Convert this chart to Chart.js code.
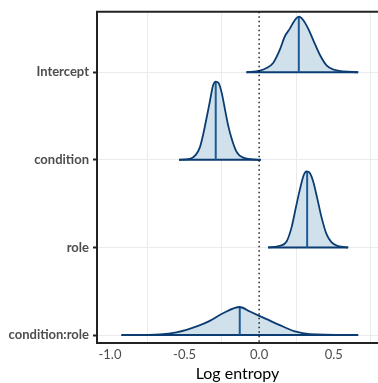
<!DOCTYPE html>
<html>
<head>
<meta charset="utf-8">
<script src="https://cdn.jsdelivr.net/npm/chart.js@4.4.0/dist/chart.umd.min.js"></script>
<style>
  html, body { margin: 0; padding: 0; background: #fff; }
</style>
</head>
<body>
<canvas id="chart" width="378" height="383"></canvas>
<script>
// parameters, top row first, and their row positions
const params = ["Intercept", "condition", "role", "condition:role"];
const rowPos = [4, 3, 2, 1];

// posterior density outlines
// x = log entropy, h = curve height (in row units)
const interceptX = [-0.085, 0.005, 0.050, 0.094, 0.139, 0.172, 0.206, 0.240, 0.268, 0.295, 0.329, 0.362, 0.407, 0.452, 0.497, 0.564, 0.664];
const interceptH = [0, 0.019, 0.049, 0.105, 0.257, 0.408, 0.498, 0.597, 0.634, 0.597, 0.498, 0.370, 0.200, 0.079, 0.031, 0.011, 0];

const conditionX = [-0.537, -0.465, -0.425, -0.398, -0.376, -0.353, -0.331, -0.309, -0.291, -0.273, -0.252, -0.230, -0.208, -0.185, -0.152, -0.107, 0.011];
const conditionH = [0, 0.011, 0.057, 0.139, 0.283, 0.472, 0.660, 0.849, 0.894, 0.880, 0.773, 0.585, 0.396, 0.246, 0.094, 0.026, 0];

const roleX = [0.060, 0.139, 0.184, 0.217, 0.246, 0.273, 0.300, 0.318, 0.340, 0.362, 0.389, 0.419, 0.452, 0.486, 0.530, 0.597];
const roleH = [0, 0.019, 0.068, 0.226, 0.453, 0.660, 0.830, 0.868, 0.849, 0.755, 0.566, 0.340, 0.151, 0.057, 0.015, 0];

const interactionX = [-0.923, -0.666, -0.554, -0.409, -0.331, -0.242, -0.130, -0.062, 0.050, 0.139, 0.240, 0.340, 0.664];
const interactionH = [0, 0.008, 0.031, 0.105, 0.162, 0.249, 0.320, 0.268, 0.181, 0.113, 0.042, 0.011, 0];

// medians, curve height at the median, and the shaded inner interval
const medians = [0.266, -0.291, 0.322, -0.130];
const medianH = [0.634, 0.894, 0.866, 0.320];
const innerLo = [0.072, -0.425, 0.184, -0.505];
const innerHi = [0.463, -0.163, 0.452, 0.240];

// x axis ticks (labels only on the half units)
const xTicks = [-1, -0.75, -0.5, -0.25, 0, 0.25, 0.5, 0.75];

const curvesX = [interceptX, conditionX, roleX, interactionX];
const curvesH = [interceptH, conditionH, roleH, interactionH];

const FILL = "#d1e1ec";
const OUTLINE = "#0b3c72";
const MEDIAN = "#1c5b94";
const AXIS = "#222222";
const GRID = "#ebebeb";

Chart.defaults.font.family = "Lato, 'DejaVu Sans', sans-serif";

const datasets = [];
params.forEach((p, i) => {
    const base = rowPos[i];
    const pts = curvesX[i].map((x, k) => ({ x: x, y: base + curvesH[i][k] }));

    // shaded inner interval (clipped to the interval)
    datasets.push({
        label: p + " inner",
        data: pts,
        clipX: [innerLo[i], innerHi[i]],
        fill: { value: base },
        backgroundColor: FILL,
        borderWidth: 0,
        pointRadius: 0,
        cubicInterpolationMode: "monotone",
        order: 4
    });

    // baseline under the full range
    const xs = curvesX[i];
    datasets.push({
        label: p + " base",
        data: [{ x: xs[0], y: base }, { x: xs[xs.length - 1], y: base }],
        borderColor: OUTLINE,
        borderWidth: 2,
        pointRadius: 0,
        fill: false,
        order: 3
    });

    // median line
    datasets.push({
        label: p + " median",
        data: [{ x: medians[i], y: base }, { x: medians[i], y: base + medianH[i] }],
        borderColor: MEDIAN,
        borderWidth: 2,
        pointRadius: 0,
        fill: false,
        order: 2
    });

    // density outline
    datasets.push({
        label: p,
        data: pts,
        borderColor: OUTLINE,
        borderWidth: 1.8,
        pointRadius: 0,
        fill: false,
        cubicInterpolationMode: "monotone",
        order: 1
    });
});

// clip the inner-interval fills to their x range
const clipPlugin = {
    id: "clipInner",
    beforeDatasetDraw(chart, args) {
        const ds = chart.data.datasets[args.index];
        if (!ds.clipX) return;
        const xs = chart.scales.x;
        const a = chart.chartArea;
        const x0 = xs.getPixelForValue(ds.clipX[0]);
        const x1 = xs.getPixelForValue(ds.clipX[1]);
        const ctx = chart.ctx;
        ctx.save();
        ctx.beginPath();
        ctx.rect(x0, a.top, x1 - x0, a.bottom - a.top);
        ctx.clip();
    },
    afterDatasetDraw(chart, args) {
        const ds = chart.data.datasets[args.index];
        if (ds.clipX) chart.ctx.restore();
    }
};

// dotted zero line and top frame line
const framePlugin = {
    id: "frame",
    afterDatasetsDraw(chart) {
        const ctx = chart.ctx;
        const a = chart.chartArea;
        const x0 = chart.scales.x.getPixelForValue(0);
        ctx.save();
        ctx.strokeStyle = "#000";
        ctx.lineWidth = 1.3;
        ctx.setLineDash([1.5, 3]);
        ctx.beginPath();
        ctx.moveTo(x0, a.top);
        ctx.lineTo(x0, a.bottom);
        ctx.stroke();
        ctx.setLineDash([]);
        ctx.strokeStyle = AXIS;
        ctx.lineWidth = 2;
        ctx.beginPath();
        ctx.moveTo(a.left - 1, a.top);
        ctx.lineTo(a.right, a.top);
        ctx.stroke();
        ctx.restore();
    }
};

new Chart(document.getElementById("chart"), {
    type: "line",
    data: { datasets: datasets },
    options: {
        responsive: false,
        animation: false,
        events: [],
        layout: { padding: { top: 9, right: 0, left: 0, bottom: 0 } },
        plugins: {
            legend: { display: false },
            tooltip: { enabled: false }
        },
        scales: {
            x: {
                type: "linear",
                min: -1.087,
                max: 0.797,
                afterBuildTicks: s => { s.ticks = xTicks.map(v => ({ value: v })); },
                afterFit: s => { s.height = 40; },
                grid: {
                    color: c => (Math.abs(c.tick.value * 2 - Math.round(c.tick.value * 2)) < 1e-6 ? "rgba(0,0,0,0)" : GRID),
                    lineWidth: 1,
                    drawTicks: false
                },
                border: { display: true, color: AXIS, width: 2 },
                ticks: {
                    padding: 4,
                    color: "#4d4d4d",
                    font: { size: 13 },
                    maxRotation: 0,
                    autoSkip: false,
                    callback: v => (Math.abs(v * 2 - Math.round(v * 2)) < 1e-6 ? v.toFixed(1) : "")
                },
                title: {
                    display: true,
                    text: "Log entropy",
                    color: "#000",
                    font: { size: 16 },
                    padding: { top: 0, bottom: 0 }
                }
            },
            y: {
                type: "linear",
                min: 0.909,
                max: 4.69,
                afterBuildTicks: s => { s.ticks = rowPos.map(v => ({ value: v })); },
                afterFit: s => { s.width = 97; },
                grid: {
                    color: GRID,
                    lineWidth: 1,
                    drawTicks: true,
                    tickLength: 4,
                    tickColor: AXIS,
                    tickWidth: 2
                },
                border: { display: true, color: AXIS, width: 2 },
                ticks: {
                    padding: 4,
                    color: "#4d4d4d",
                    font: { size: 13, weight: "bold" },
                    autoSkip: false,
                    callback: v => params[rowPos.indexOf(v)]
                }
            }
        }
    },
    plugins: [clipPlugin, framePlugin]
});
</script>
</body>
</html>
